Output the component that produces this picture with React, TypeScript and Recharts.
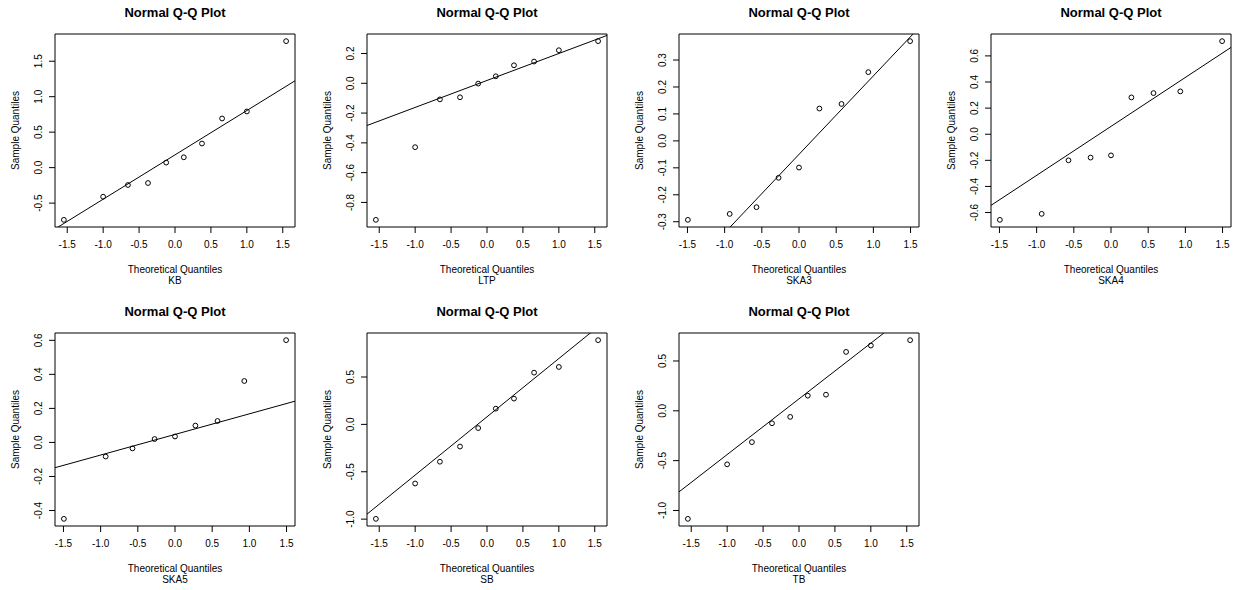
import React from 'react';
import { ScatterChart, Scatter, XAxis, YAxis, ReferenceLine, ReferenceArea } from 'recharts';

// theoretical normal quantiles (x positions)
const theo10 = [-1.5466, -1.0005, -0.6554, -0.3755, -0.1226, 0.1226, 0.3755, 0.6554, 1.0005, 1.5466];
const theo9 = [-1.4942, -0.932, -0.5716, -0.2744, 0, 0.2744, 0.5716, 0.932, 1.4942];

const xTicks = [-1.5, -1.0, -0.5, 0, 0.5, 1.0, 1.5];

// sample quantiles per variable
const kbValues = [-0.736, -0.41, -0.245, -0.217, 0.071, 0.146, 0.34, 0.693, 0.792, 1.783];
const ltpValues = [-0.917, -0.429, -0.108, -0.094, -0.002, 0.047, 0.121, 0.146, 0.222, 0.283];
const ska3Values = [-0.293, -0.271, -0.246, -0.137, -0.099, 0.12, 0.137, 0.255, 0.37];
const ska4Values = [-0.656, -0.61, -0.2, -0.179, -0.162, 0.282, 0.315, 0.328, 0.713];
const ska5Values = [-0.449, -0.083, -0.035, 0.02, 0.035, 0.099, 0.126, 0.361, 0.601];
const sbValues = [-0.997, -0.624, -0.394, -0.234, -0.039, 0.166, 0.272, 0.546, 0.606, 0.889];
const tbValues = [-1.084, -0.537, -0.314, -0.125, -0.061, 0.152, 0.162, 0.591, 0.655, 0.709];

// y tick labels
const kbTicks = [-0.5, 0, 0.5, 1.0, 1.5];
const ltpTicks = [-0.8, -0.6, -0.4, -0.2, 0, 0.2];
const ska3Ticks = [-0.3, -0.2, -0.1, 0, 0.1, 0.2, 0.3];
const ska4Ticks = [-0.6, -0.4, -0.2, 0, 0.2, 0.4, 0.6];
const ska5Ticks = [-0.4, -0.2, 0, 0.2, 0.4, 0.6];
const sbTicks = [-1.0, -0.5, 0, 0.5];
const tbTicks = [-1.0, -0.5, 0, 0.5];

// qq line: y at x = -1.8 and x = 1.8
const lineX = [-1.8, 1.8];
const kbLine = [-0.945, 1.305];
const ltpLine = [-0.307, 0.345];
const ska3Line = [-0.574, 0.474];
const ska4Line = [-0.615, 0.735];
const ska5Line = [-0.171, 0.265];
const sbLine = [-1.027, 1.187];
const tbLine = [-0.886, 1.126];

const names = ['KB', 'LTP', 'SKA3', 'SKA4', 'SKA5', 'SB', 'TB'];
const xs = [theo10, theo10, theo9, theo9, theo9, theo10, theo10];
const ys = [kbValues, ltpValues, ska3Values, ska4Values, ska5Values, sbValues, tbValues];
const yTicks = [kbTicks, ltpTicks, ska3Ticks, ska4Ticks, ska5Ticks, sbTicks, tbTicks];
const lines = [kbLine, ltpLine, ska3Line, ska4Line, ska5Line, sbLine, tbLine];

const FONT = '"Liberation Sans", Arial, Helvetica, sans-serif';

// R style range: data range padded by 4%
const padRange = (v: number[]): [number, number] => {
  const lo = Math.min(...v);
  const hi = Math.max(...v);
  const p = (hi - lo) * 0.04;
  return [lo - p, hi + p];
};

const XTick = (props: any) => {
  const { x, y, payload } = props;
  return (
    <text x={x} y={y} dy="0.71em" textAnchor="middle" fontSize={10} fontFamily={FONT} fill="#000">
      {Number(payload.value).toFixed(1)}
    </text>
  );
};

const YTick = (props: any) => {
  const { x, y, payload } = props;
  return (
    <text x={x} y={y} textAnchor="middle" fontSize={10} fontFamily={FONT} fill="#000" transform={`rotate(-90, ${x}, ${y})`}>
      {Number(payload.value).toFixed(1)}
    </text>
  );
};

const Dot = (props: any) => <circle cx={props.cx} cy={props.cy} r={2.4} fill="none" stroke="#000" strokeWidth={1} />;

const QQPanel = ({ i }: { i: number }) => {
  const data = xs[i].map((x, k) => ({ x, y: ys[i][k] }));
  const xDom = padRange(xs[i]);
  const yDom = padRange(ys[i]);
  const col = i % 4;
  const row = Math.floor(i / 4);
  return (
    <div style={{ position: 'absolute', left: col * 312, top: row * 299, width: 310, height: 295 }}>
      <div
        style={{
          position: 'absolute', left: 55, top: 5, width: 240, textAlign: 'center',
          fontFamily: FONT, fontWeight: 'bold', fontSize: 13, lineHeight: '16px', color: '#000',
        }}
      >
        Normal Q-Q Plot
      </div>
      <ScatterChart width={310} height={295} margin={{ top: 34, right: 15, bottom: 0, left: 0 }}>
        <XAxis
          type="number"
          dataKey="x"
          domain={xDom}
          allowDataOverflow
          ticks={xTicks}
          interval={0}
          tick={<XTick />}
          tickSize={6}
          tickMargin={8}
          axisLine={false}
          tickLine={{ stroke: '#000' }}
          height={68}
          label={{
            content: (p: any) => {
              const vb = p.viewBox;
              const cx = vb.x + vb.width / 2;
              return (
                <g fontFamily={FONT} fontSize={10} fill="#000">
                  <text x={cx} y={vb.y + 46} textAnchor="middle">Theoretical Quantiles</text>
                  <text x={cx} y={vb.y + 57} textAnchor="middle">{names[i]}</text>
                </g>
              );
            },
          }}
        />
        <YAxis
          type="number"
          dataKey="y"
          domain={yDom}
          allowDataOverflow
          ticks={yTicks[i]}
          interval={0}
          tick={<YTick />}
          tickSize={6}
          tickMargin={7}
          axisLine={false}
          tickLine={{ stroke: '#000' }}
          width={55}
          label={{
            content: (p: any) => {
              const vb = p.viewBox;
              const cy = vb.y + vb.height / 2;
              return (
                <text x={19} y={cy} textAnchor="middle" fontFamily={FONT} fontSize={10} fill="#000" transform={`rotate(-90, 19, ${cy})`}>
                  Sample Quantiles
                </text>
              );
            },
          }}
        />
        <ReferenceArea x1={xDom[0]} x2={xDom[1]} y1={yDom[0]} y2={yDom[1]} fill="none" fillOpacity={0} stroke="#000" strokeWidth={1} ifOverflow="visible" />
        <ReferenceLine
          segment={[{ x: lineX[0], y: lines[i][0] }, { x: lineX[1], y: lines[i][1] }]}
          stroke="#000"
          strokeWidth={1}
          ifOverflow="hidden"
        />
        <Scatter data={data} shape={<Dot />} isAnimationActive={false} />
      </ScatterChart>
    </div>
  );
}

export default function App() {
  return (
    <div style={{ position: 'absolute', left: 0, top: 0, width: 1241, height: 590, overflow: 'hidden', background: '#fff' }}>
      {names.map((n, i) => <QQPanel key={n} i={i} />)}
    </div>
  );
}
